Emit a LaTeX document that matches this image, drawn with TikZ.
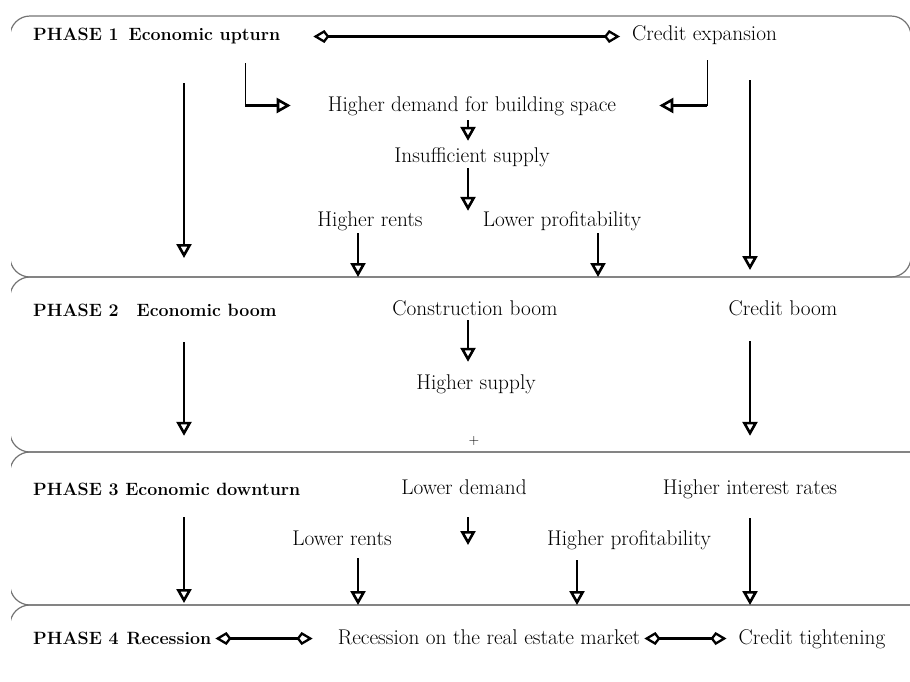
\documentclass[tikz,border=0pt]{standalone}
\usetikzlibrary{arrows.meta}
\begin{document}
\begin{tikzpicture}[x=1pt,y=-1pt,
  every node/.style={inner sep=0pt,text height=15pt,text depth=4pt,font=\fontsize{21.3}{25}\selectfont},
  lbl/.style={anchor=base},
  phase/.style={anchor=base west,font=\fontsize{17.8}{22}\selectfont\bfseries},
  frame/.style={draw=black!55,line width=1.2pt,rounded corners=20pt},
  stem/.style={line width=0.9pt},
  arr/.style={line width=2.4pt,-{Triangle[open,length=14pt,width=15pt,line width=2.6pt]}},
  dbl/.style={line width=2.2pt,{Kite[open,length=16pt,width=13pt,inset=5pt,line width=2.3pt]}-{Kite[open,length=16pt,width=13pt,inset=5pt,line width=2.3pt]}}]
  \useasboundingbox (0,0) rectangle (910,681);
  \begin{scope}
    \clip (11,0) rectangle (910,681);
    \draw[frame] (10,16) rectangle (911,277);
    \draw[frame] (10,277) rectangle (950,452);
    \draw[frame] (10,452) rectangle (950,605);
    \draw[frame] (10,605) rectangle (950,700);
  \end{scope}
  \path (184,0) coordinate (cL) (468,0) coordinate (cM) (750,0) coordinate (cR)
        (358,0) coordinate (x1) (598,0) coordinate (x2) (577,0) coordinate (x3)
        (0,277) coordinate (sep1) (0,605) coordinate (sep3)
        (245,63) coordinate (upL) (707,60) coordinate (upR);

  \node[phase] (p1) at (33,40) {PHASE 1\hspace{10pt}Economic upturn};
  \node[lbl,anchor=base west] (credexp) at (632,40) {Credit expansion};
  \node[lbl] (demand) at (472,111) {Higher demand for building space};
  \node[lbl] (insuff) at (472,162) {Insufficient supply};
  \node[lbl] (hrents) at (370,226) {Higher rents};
  \node[lbl] (lprof) at (562,226) {Lower profitability};

  \node[phase] (p2) at (33,316) {PHASE 2\hspace{18pt}Economic boom};
  \node[lbl] (constr) at (475,315) {Construction boom};
  \node[lbl] (credboom) at (783,315) {Credit boom};
  \node[lbl] (hsupply) at (476,389) {Higher supply};
  \node[lbl,font=\fontsize{14}{16}\selectfont] (plus) at (474,444) {+};

  \node[phase] (p3) at (33,495) {PHASE 3 Economic downturn};
  \node[lbl] (ldemand) at (464,494) {Lower demand};
  \node[lbl] (hinterest) at (750,494) {Higher interest rates};
  \node[lbl] (lrents) at (342,545) {Lower rents};
  \node[lbl] (hprof) at (629,545) {Higher profitability};

  \node[phase] (p4) at (33,644) {PHASE 4\hspace{8pt}Recession};
  \node[lbl] (recmarket) at (489,644) {Recession on the real estate market};
  \node[lbl] (tight) at (812,644) {Credit tightening};

  \draw[dbl,shorten <=33pt,shorten >=12pt] ([yshift=-2pt]p1.east) -- ([yshift=-2pt]p1.east -| credexp.west);
  \draw[stem] (upL) -- (upL |- demand.west);
  \draw[arr,shorten >=37pt] (upL |- demand.west) -- (demand.west);
  \draw[stem] (upR) -- (upR |- demand.east);
  \draw[arr,shorten >=43pt] (upR |- demand.east) -- (demand.east);
  \draw[arr,shorten <=5pt,shorten >=6pt] (demand.south -| cM) -- (insuff.north -| cM);
  \draw[arr,shorten <=2pt] (insuff.south -| cM) -- (hrents.north -| cM);
  \draw[arr,shorten <=3pt] (hrents.south -| x1) -- (x1 |- sep1);
  \draw[arr,shorten <=3pt] (lprof.south -| x2) -- (x2 |- sep1);
  \draw[arr,shorten <=39pt,shorten >=19pt] (p1.south -| cL) -- (cL |- sep1);
  \draw[arr,shorten <=36pt,shorten >=7pt] (credexp.south -| cR) -- (cR |- sep1);

  \draw[arr,shorten <=22pt,shorten >=44pt] (p2.south -| cL) -- (cL |- p3.north);
  \draw[arr,shorten <=22pt,shorten >=44pt] (credboom.south -| cR) -- (cR |- p3.north);
  \draw[arr,shorten <=1pt,shorten >=12pt] (constr.south -| cM) -- (hsupply.north -| cM);

  \draw[arr,shorten <=18pt,shorten >=2pt] (p3.south -| cL) -- (cL |- sep3);
  \draw[arr,shorten <=20pt] (hinterest.south -| cR) -- (cR |- sep3);
  \draw[arr,shorten <=19pt] (ldemand.south -| cM) -- (lrents.base -| cM);
  \draw[arr,shorten <=9pt] (lrents.south -| x1) -- (x1 |- sep3);
  \draw[arr,shorten <=11pt] (hprof.south -| x3) -- (x3 |- sep3);

  \draw[dbl,shorten <=4pt,shorten >=25pt] (p4) -- (recmarket);
  \draw[dbl,shorten <=4pt,shorten >=12pt] (recmarket) -- (tight);
\end{tikzpicture}
\end{document}
